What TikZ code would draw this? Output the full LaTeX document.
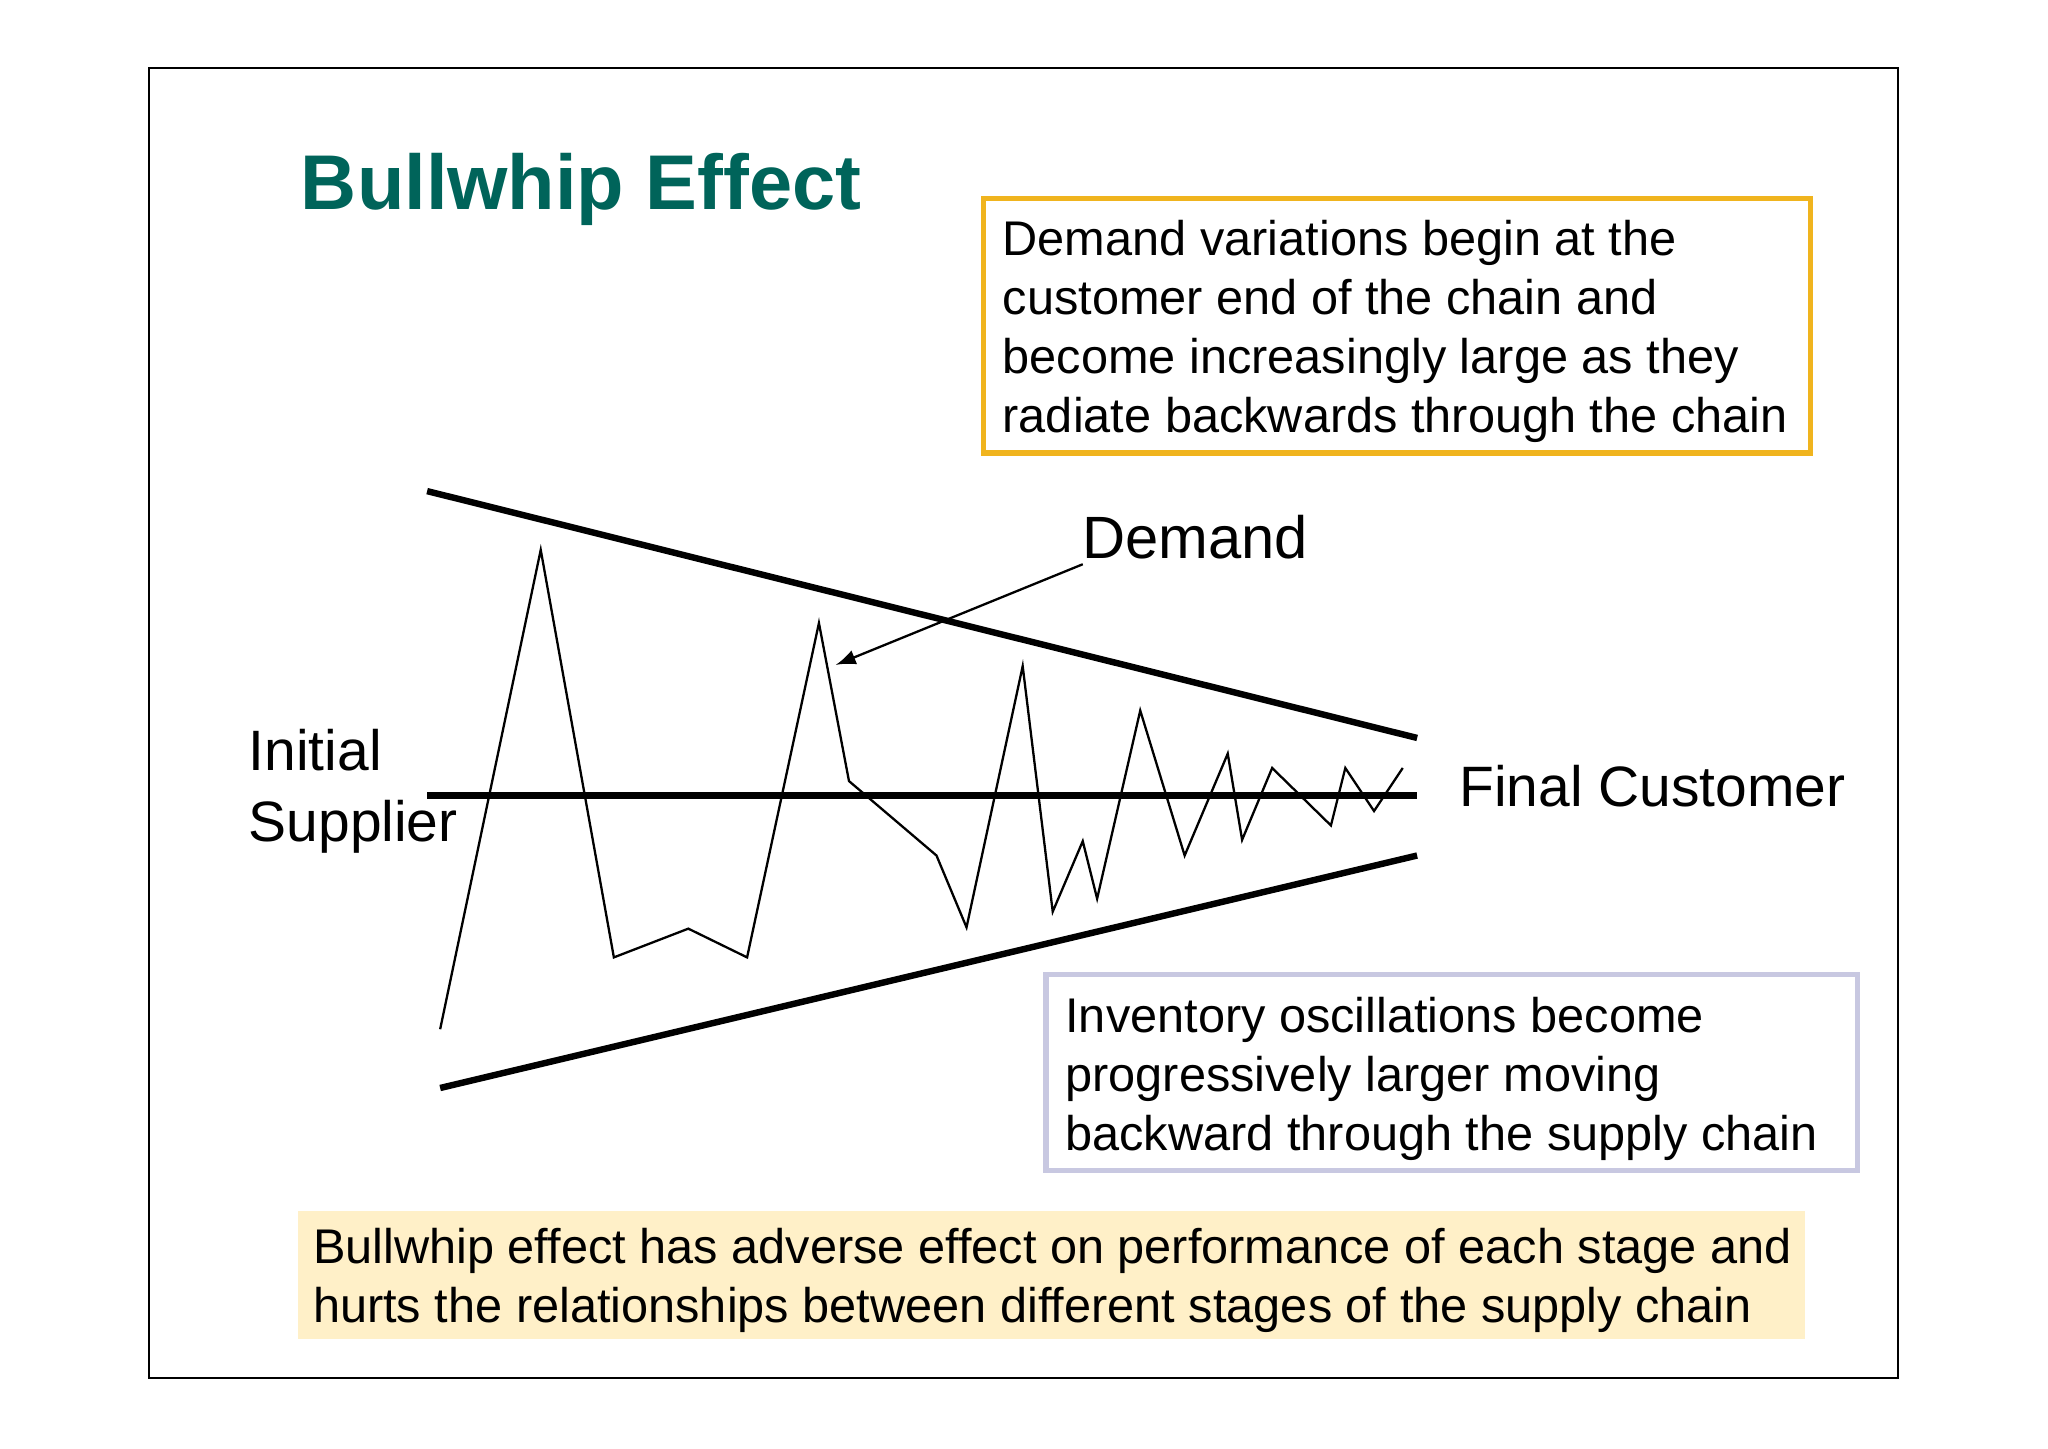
\documentclass[tikz,border=0pt]{standalone}
\usepackage{fontspec}
\setmainfont{Liberation Sans}
\usetikzlibrary{positioning}
\definecolor{titlegreen}{RGB}{0,100,90}
\definecolor{boxorange}{RGB}{240,180,30}
\definecolor{boxlilac}{RGB}{200,200,225}
\definecolor{boxcream}{RGB}{255,240,200}
\tikzset{
  bound/.style={line width=1.4pt},
  note/.style={anchor=north west, align=left, inner sep=0pt, font=\fontsize{10.6}{12.8}\selectfont},
  label/.style={font=\fontsize{12.4}{15.4}\selectfont, align=left}
}
\begin{document}
\begin{tikzpicture}[x=0.01cm, y=-0.01cm]
\useasboundingbox (0,0) rectangle (1568,1109);
\draw [line width=0.5pt] (114,52) rectangle (1453,1055);

\node [anchor=west, text=titlegreen, font=\fontsize{16.9}{20}\selectfont\bfseries] (title) at (218,145) {Bullwhip Effect};

% boxes
\draw [boxorange, line width=1.2pt] (753,152) rectangle (1386,347);
\node [note] (top) at (767,168) {Demand variations begin at the\\customer end of the chain and\\become increasingly large as they\\radiate backwards through the chain};
\draw [boxlilac, line width=1.2pt] (801,746) rectangle (1422,896);
\node [note] (inv) at (815,763) {Inventory oscillations become\\progressively larger moving\\backward through the supply chain};
\fill [boxcream] (228,927) rectangle (1382,1025);
\node [note] (bottom) at (239,940) {Bullwhip effect has adverse effect on performance of each stage and\\hurts the relationships between different stages of the supply chain};

% bounds
\coordinate (ul) at (327,376); \coordinate (ur) at (1085,565);
\coordinate (ml) at (327,609); \coordinate (mr) at (1085,609);
\coordinate (ll) at (337,833); \coordinate (lr) at (1085,655);
\draw [bound] (ul) -- (ur);
\draw [bound] (ml) -- (mr);
\draw [bound] (ll) -- (lr);

% demand signal
\draw [line width=0.5pt] plot coordinates {(337,788) (414,421) (470,733) (527,711) (572,733) (627,477) (650,598) (717,655) (740,710) (783,510) (806,698) (829,644) (840,688) (873,544) (907,655) (940,577) (951,643) (974,588) (1019,632) (1030,588) (1052,621) (1074,588)};
\coordinate (peak) at (640,509);

\node [label, font=\fontsize{13}{15}\selectfont] (demand) at (915,411) {Demand};
\coordinate (tail) at (829,432);
\draw [-latex, line width=0.5pt] (tail) -- (peak);

\node [label, anchor=west] (supplier) at (178,606) {Initial\\Supplier};
\node [label, anchor=west] (customer) at (1105,602) {Final Customer};
\end{tikzpicture}
\end{document}
